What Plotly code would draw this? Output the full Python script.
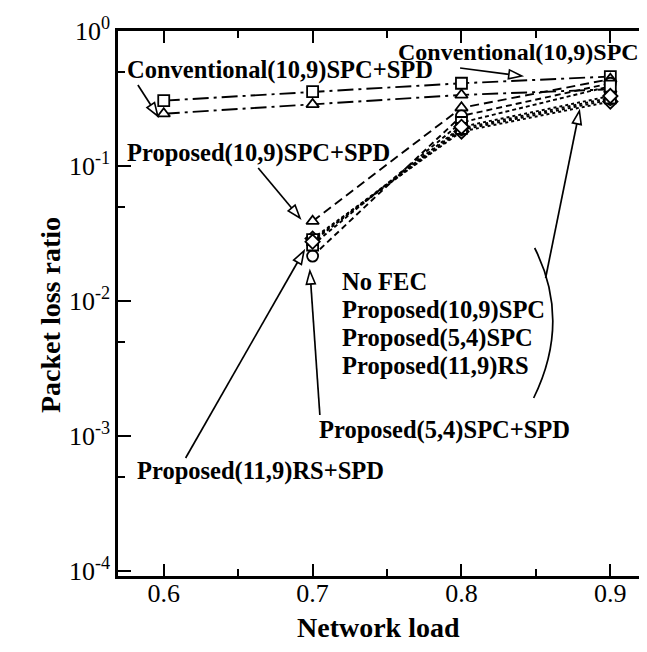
import math
import plotly.graph_objects as go

# ---- data ----
loads_conv = [0.6, 0.7, 0.8, 0.9]
loads_prop = [0.7, 0.8, 0.9]

conv_spc = [0.305, 0.355, 0.41, 0.46]
conv_spc_spd = [0.244, 0.286, 0.336, 0.37]

prop_109_spc_spd = [0.039, 0.27, 0.44]
prop_54_spc_spd = [0.0215, 0.235, 0.41]
prop_119_rs_spd = [0.026, 0.21, 0.39]
no_fec = [0.029, 0.18, 0.30]
prop_109_spc = [0.028, 0.185, 0.31]
prop_54_spc = [0.0285, 0.19, 0.32]
prop_119_rs = [0.0275, 0.195, 0.33]

x_ticks = [0.6, 0.7, 0.8, 0.9]
x_ticktext = ["0.6", "0.7", "0.8", "0.9"]
y_ticks = [1e-4, 1e-3, 1e-2, 1e-1, 1]
y_ticktext = ["10<sup>-4</sup>", "10<sup>-3</sup>", "10<sup>-2</sup>", "10<sup>-1</sup>", "10<sup>0</sup>"]

FONT = "Liberation Serif"

series = [
    ("Conventional(10,9)SPC", loads_conv, conv_spc, "square", "16px,5px,3px,5px"),
    ("Conventional(10,9)SPC+SPD", loads_conv, conv_spc_spd, "triangle-up", "16px,5px,3px,5px"),
    ("Proposed(10,9)SPC+SPD", loads_prop, prop_109_spc_spd, "triangle-up", "9px,5px"),
    ("Proposed(5,4)SPC+SPD", loads_prop, prop_54_spc_spd, "circle", "6px,4px"),
    ("Proposed(11,9)RS+SPD", loads_prop, prop_119_rs_spd, "square", "4px,3px"),
    ("No FEC", loads_prop, no_fec, "diamond", "3px,3px"),
    ("Proposed(10,9)SPC", loads_prop, prop_109_spc, "hexagon", "3px,3px"),
    ("Proposed(5,4)SPC", loads_prop, prop_54_spc, "square", "3px,3px"),
    ("Proposed(11,9)RS", loads_prop, prop_119_rs, "diamond", "3px,3px"),
]

fig = go.Figure()
for name, xs, ys, sym, dash in series:
    fig.add_trace(go.Scatter(
        x=xs, y=ys, name=name, mode="lines+markers",
        line=dict(color="black", width=1.9, dash=dash),
        marker=dict(symbol=sym, size=11, color="white", line=dict(width=1.8, color="black")),
        showlegend=False,
    ))

W = 647; H = 652
L = 110; R = 647; T = 23; B = 568
def fx(px):
    return 0.6 + (px - 156) / 1497.0
def fy(py):
    return -(py - 23) / 135.0
def paper_x(px):
    return (px - L) / (R - L)
def paper_y(py):
    return (B - py) / (B - T)

ann = []
def label(text, px, py, size=24.5):
    ann.append(dict(x=fx(px), y=fy(py), xref="x", yref="y", text="<b>%s</b>" % text,
                    showarrow=False, xanchor="left", yanchor="middle",
                    font=dict(family=FONT, size=size, color="black")))

shapes = []
def arrow(tx, ty, hx, hy, hl=13, hw=4.5):
    dx, dy = hx - tx, hy - ty
    n = math.hypot(dx, dy)
    ux, uy = dx / n, dy / n
    bx, by = hx - ux * hl, hy - uy * hl
    px_, py_ = -uy * hw, ux * hw
    shapes.append(dict(type="line", xref="paper", yref="paper",
                       x0=paper_x(tx), y0=paper_y(ty), x1=paper_x(bx), y1=paper_y(by),
                       line=dict(color="black", width=1.7)))
    path = "M %f,%f L %f,%f L %f,%f Z" % (
        paper_x(hx), paper_y(hy),
        paper_x(bx + px_), paper_y(by + py_),
        paper_x(bx - px_), paper_y(by - py_))
    shapes.append(dict(type="path", path=path, xref="paper", yref="paper",
                       fillcolor="white", line=dict(color="black", width=1.6)))

label("Conventional(10,9)SPC+SPD", 117, 62)
label("Conventional(10,9)SPC", 390, 44, 24)
label("Proposed(10,9)SPC+SPD", 117, 145)
label("No FEC", 333, 273)
label("Proposed(10,9)SPC", 333, 302)
label("Proposed(5,4)SPC", 333, 330)
label("Proposed(11,9)RS", 333, 358)
label("Proposed(5,4)SPC+SPD", 310, 422)
label("Proposed(11,9)RS+SPD", 127, 463)

arrow(130, 77, 150, 108)
arrow(454, 60, 516, 68)
arrow(251, 160, 293, 210)
arrow(178, 450, 297, 243)
arrow(313, 407, 303, 263)
arrow(540, 270, 574, 103)

# axis titles
ann.append(dict(x=paper_x(372), y=paper_y(637), xref="paper", yref="paper",
                text="<b>Network load</b>", showarrow=False,
                font=dict(family=FONT, size=28, color="black")))
ann.append(dict(x=paper_x(24), y=paper_y(307), xref="paper", yref="paper",
                text="<b>Packet loss ratio</b>", showarrow=False, textangle=-90,
                font=dict(family=FONT, size=28, color="black")))

# brace
p0 = (paper_x(529), paper_y(240))
pc = (paper_x(566), paper_y(313))
p1 = (paper_x(528), paper_y(390))
brace = "M %f,%f Q %f,%f %f,%f" % (p0[0], p0[1], pc[0], pc[1], p1[0], p1[1])
shapes.append(dict(type="path", path=brace, xref="paper", yref="paper",
                   line=dict(color="black", width=1.7)))

fig.update_layout(
    width=W, height=H,
    margin=dict(l=L, r=W - R, t=T, b=H - B),
    paper_bgcolor="white", plot_bgcolor="white",
    font=dict(family=FONT, size=26, color="black"),
    annotations=ann,
    shapes=shapes,
)

fig.update_xaxes(
    range=[fx(L), fx(R)], tickvals=x_ticks, ticktext=x_ticktext,
    ticks="inside", ticklen=12, tickwidth=2, tickcolor="black",
    showline=True, linewidth=2.5, linecolor="black", mirror="ticks",
    showgrid=False, zeroline=False, ticklabelstandoff=-8,
    tickfont=dict(family=FONT, size=26, color="black"),
    minor=dict(tickvals=[0.65, 0.75, 0.85], ticks="inside", ticklen=7, tickwidth=2, tickcolor="black", showgrid=False),
)
fig.update_yaxes(
    type="log", range=[fy(B), fy(T)], tickvals=y_ticks, ticktext=y_ticktext,
    ticks="inside", ticklen=13, tickwidth=2, tickcolor="black",
    showline=True, linewidth=2.5, linecolor="black", mirror="ticks",
    showgrid=False, zeroline=False,
    tickfont=dict(family=FONT, size=26, color="black"),
    minor=dict(tickvals=[5e-4, 5e-3, 5e-2, 5e-1], ticks="inside", ticklen=7, tickwidth=2, tickcolor="black", showgrid=False),
)

fig.write_html("out.html")
